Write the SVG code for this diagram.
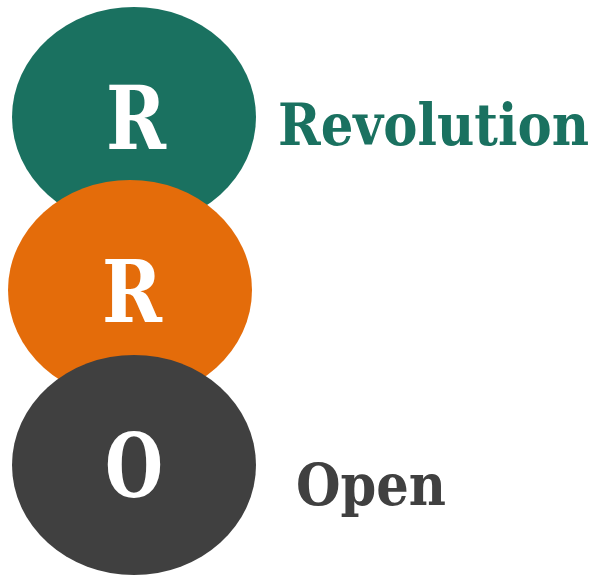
<svg xmlns="http://www.w3.org/2000/svg" width="598" height="576" viewBox="0 0 598 576">
<style>
.big{font-family:"DejaVu Serif","Liberation Serif",serif;font-weight:bold;fill:#ffffff;text-anchor:middle}
.lbl{font-family:"DejaVu Serif","Liberation Serif",serif;font-weight:bold}
</style>
<rect width="598" height="576" fill="#ffffff"/>
<g id="node-r1">
<ellipse cx="134" cy="117" rx="122" ry="110" fill="#1a7160"/>
<text class="big" x="136" y="149" font-size="88" textLength="60" lengthAdjust="spacingAndGlyphs">R</text>
</g>
<g id="node-r2">
<ellipse cx="130" cy="290" rx="122" ry="110" fill="#e46c0a"/>
<text class="big" x="132" y="322" font-size="86" textLength="60" lengthAdjust="spacingAndGlyphs">R</text>
</g>
<g id="node-o">
<ellipse cx="134" cy="465" rx="122" ry="110" fill="#404040"/>
<text class="big" x="134" y="497" font-size="88" textLength="58" lengthAdjust="spacingAndGlyphs">O</text>
</g>
<g id="label-revolution">
<text class="lbl" x="278" y="145" font-size="57" fill="#1a7160" textLength="311" lengthAdjust="spacingAndGlyphs">Revolution</text>
</g>
<g id="label-open">
<text class="lbl" x="296" y="505" font-size="57" fill="#404040" textLength="150" lengthAdjust="spacingAndGlyphs">Open</text>
</g>
<g id="connectors"></g>
</svg>
